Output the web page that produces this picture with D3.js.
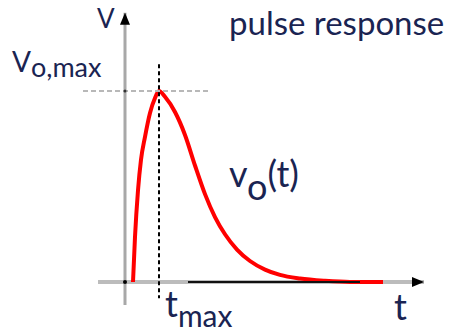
<!DOCTYPE html>
<html>
<head>
<meta charset="utf-8">
<script src="https://cdn.jsdelivr.net/npm/d3@7"></script>
<style>
  html, body { margin: 0; padding: 0; background: #fff; }
  svg { display: block; }
  text { font-family: Lato, "Open Sans", sans-serif; fill: #1a2452; }
</style>
</head>
<body>
<svg id="chart" width="449" height="333"></svg>
<script>
// Pulse response samples: time (arbitrary units) and normalised output voltage
const curveT = [0.8, 1.0, 1.3, 1.6, 2.0, 2.5, 3.0, 3.4, 4.0, 5.0, 6.0, 7.0, 8.0, 9.0, 10.0, 11.2, 12.5, 14.0, 15.5, 17.5, 20.0, 22.5, 25.8];
const curveV = [0.0, 0.236, 0.48, 0.64, 0.76, 0.885, 0.963, 1.0, 0.97, 0.89, 0.77, 0.61, 0.46, 0.34, 0.25, 0.17, 0.11, 0.065, 0.037, 0.018, 0.006, 0.0, 0.0];

// Peak marker
const tMax = 3.4;
const vMax = 1.0;

// Axis extents in data units
const tAxisRange = [-2.7, 29.9];
const vAxisRange = [-0.12, 1.41];

const svg = d3.select("#chart");

const x = d3.scaleLinear().domain([0, 30]).range([125, 425]);
const y = d3.scaleLinear().domain([0, 1]).range([282, 91]);

// Arrowheads
const defs = svg.append("defs");
defs.append("marker")
  .attr("id", "arrow")
  .attr("viewBox", "0 0 12 10")
  .attr("refX", 12).attr("refY", 5)
  .attr("markerUnits", "userSpaceOnUse")
  .attr("markerWidth", 12).attr("markerHeight", 10)
  .attr("orient", "auto")
  .append("path").attr("d", "M0,0 L12,5 L0,10 Z").attr("fill", "#000");

// Gray axes
svg.append("line")
  .attr("x1", x(tAxisRange[0])).attr("x2", x(tAxisRange[1]))
  .attr("y1", y(0)).attr("y2", y(0))
  .attr("stroke", "#bcbcbc").attr("stroke-width", 4)
  .attr("marker-end", "url(#arrow)");
svg.append("line")
  .attr("x1", x(0)).attr("x2", x(0))
  .attr("y1", y(vAxisRange[0])).attr("y2", y(vAxisRange[1]))
  .attr("stroke", "#a8a8a8").attr("stroke-width", 3)
  .attr("marker-end", "url(#arrow)");

// Response curve
const line = d3.line()
  .x((d, i) => x(curveT[i]))
  .y(d => y(d))
  .curve(d3.curveMonotoneX);

svg.append("path")
  .datum(curveV)
  .attr("d", line)
  .attr("fill", "none")
  .attr("stroke", "#ff0000")
  .attr("stroke-width", 4)
  .attr("stroke-linejoin", "round");

// Dark baseline segment over the t axis
svg.append("line")
  .attr("x1", x(6.3)).attr("x2", x(23.5))
  .attr("y1", y(0)).attr("y2", y(0))
  .attr("stroke", "#111").attr("stroke-width", 2);

// Guide lines at the peak
svg.append("line")
  .attr("x1", x(-4.2)).attr("x2", x(8.3))
  .attr("y1", y(vMax)).attr("y2", y(vMax))
  .attr("stroke", "#b8b8b8").attr("stroke-width", 2)
  .attr("stroke-dasharray", "5,3");
svg.append("line")
  .attr("x1", x(tMax)).attr("x2", x(tMax))
  .attr("y1", y(1.14)).attr("y2", y(-0.085))
  .attr("stroke", "#000").attr("stroke-width", 2)
  .attr("stroke-dasharray", "4,3");

// Dots where the guides meet the v axis
svg.append("circle").attr("cx", x(0)).attr("cy", y(0)).attr("r", 2).attr("fill", "#000");
svg.append("circle").attr("cx", x(0)).attr("cy", y(vMax)).attr("r", 1.5).attr("fill", "#333");

// Labels
svg.append("text").attr("x", 97).attr("y", 28).attr("font-size", 26).text("V");

const vLabel = svg.append("text").attr("x", 12).attr("y", 72).attr("font-size", 28);
vLabel.append("tspan").text("V");
vLabel.append("tspan").attr("dy", 5).attr("font-size", 27).text("o,max");

svg.append("text").attr("x", 229).attr("y", 35).attr("font-size", 33).text("pulse response");

const voLabel = svg.append("text").attr("x", 229).attr("y", 187).attr("font-size", 36);
voLabel.append("tspan").text("v");
voLabel.append("tspan").attr("dy", 13).text("o");
voLabel.append("tspan").attr("dy", -13).text("(t)");

const tmLabel = svg.append("text").attr("x", 165).attr("y", 317).attr("font-size", 36);
tmLabel.append("tspan").text("t");
tmLabel.append("tspan").attr("dy", 10).attr("font-size", 30).text("max");

svg.append("text").attr("x", 394).attr("y", 320).attr("font-size", 36).text("t");
</script>
</body>
</html>
